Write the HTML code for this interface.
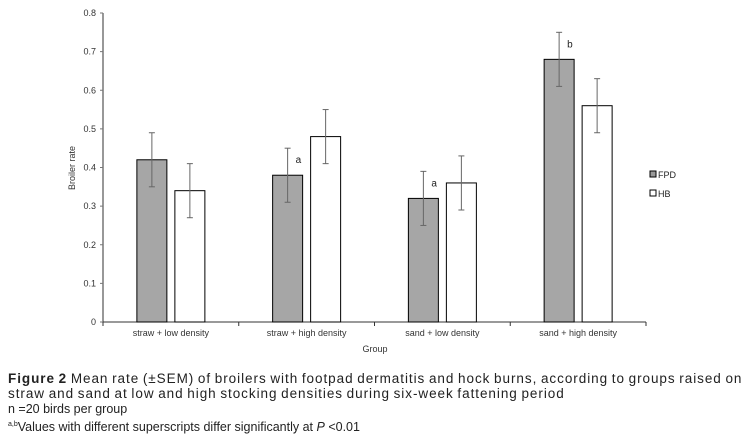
<!DOCTYPE html>
<html><head><meta charset="utf-8"><style>
body{margin:0;background:#fff;width:751px;height:438px;overflow:hidden;font-family:"Liberation Sans",Arial,sans-serif}
svg text{font-family:"Liberation Sans",Arial,sans-serif}
.cap{position:absolute;left:8px;font-size:13.5px;color:#222;line-height:15px;white-space:nowrap}
</style></head><body>
<svg width="751" height="370" style="position:absolute;left:0;top:0">
<g id="axes"></g><g id="bars"></g>
<text x="75" y="168" transform="rotate(-90 75 168)" text-anchor="middle" font-size="9" fill="#333">Broiler rate</text>
<text x="375" y="352" text-anchor="middle" font-size="9" fill="#333">Group</text>
<g>
<rect x="650" y="171" width="6" height="6" fill="#999" stroke="#000" stroke-width="1"/>
<text x="658" y="178" font-size="9" fill="#222">FPD</text>
<rect x="650" y="190" width="6" height="6" fill="#fff" stroke="#000" stroke-width="1"/>
<text x="658" y="197" font-size="9" fill="#222">HB</text>
</g>
</svg>
<div class="cap" style="top:371px;letter-spacing:0.95px;word-spacing:-1px"><b>Figure 2</b> Mean rate (±SEM) of broilers with footpad dermatitis and hock burns, according to groups raised on<br>straw and sand at low and high stocking densities during six-week fattening period</div>
<div class="cap" style="top:402px;font-size:12.5px">n =20 birds per group</div>
<div class="cap" style="top:417px;font-size:12.5px"><sup style="font-size:7px">a,b</sup>Values with different superscripts differ significantly at <i>P</i> &lt;0.01</div>
<script>
const categories=["straw + low density","straw + high density","sand + low density","sand + high density"];
const fpd=[0.42,0.38,0.32,0.68];
const hb=[0.34,0.48,0.36,0.56];
const fpdErr=[0.07,0.07,0.07,0.07];
const hbErr=[0.07,0.07,0.07,0.07];
const fpdLetters=["","a","a","b"];
const yTicks=[0,0.1,0.2,0.3,0.4,0.5,0.6,0.7,0.8];
const NS="http://www.w3.org/2000/svg";
const x0=103,x1=646,yB=322,yT=13,yMax=0.8;
const y=v=>yB-(v/yMax)*(yB-yT);
const gw=(x1-x0)/categories.length;
function mk(t,a,p){const e=document.createElementNS(NS,t);for(const k in a)e.setAttribute(k,a[k]);p.appendChild(e);return e;}
const ax=document.getElementById('axes'),bg=document.getElementById('bars');
const yl=mk('line',{x1:x0,y1:yT,x2:x0,y2:yB,stroke:'#777','stroke-width':1.5},ax);


const xl=mk('line',{x1:x0,y1:yB,x2:x1,y2:yB,stroke:'#333','stroke-width':1},ax);


yTicks.forEach(v=>{
  mk('line',{x1:x0-3,y1:y(v),x2:x0,y2:y(v),stroke:'#777'},ax);
  const t=mk('text',{x:x0-7,y:y(v)+3,'text-anchor':'end','font-size':9,fill:'#333'},ax);
  t.textContent=(v===0?"0":v.toFixed(1));
  
  
});
for(let i=0;i<=categories.length;i++){mk('line',{x1:x0+i*gw,y1:yB,x2:x0+i*gw,y2:yB+4,stroke:'#333'},ax);}
function bar(cx,v,e,fill,name){
  const r=mk('rect',{x:cx-15,y:y(v),width:30,height:yB-y(v),fill:fill,stroke:'#000','stroke-width':1},bg);
  
  
  const g=mk('g',{stroke:'#666','stroke-width':1},bg);
  
  
  mk('line',{x1:cx,y1:y(v+e),x2:cx,y2:y(v-e)},g);
  mk('line',{x1:cx-3,y1:y(v+e),x2:cx+3,y2:y(v+e)},g);
  mk('line',{x1:cx-3,y1:y(v-e),x2:cx+3,y2:y(v-e)},g);
}
categories.forEach((c,i)=>{
  const cx=x0+gw*(i+0.5);
  bar(cx-19,fpd[i],fpdErr[i],'#a6a6a6','bar-fpd-'+(i+1));
  bar(cx+19,hb[i],hbErr[i],'#fff','bar-hb-'+(i+1));
  if(fpdLetters[i]){const t=mk('text',{x:cx-11,y:y(fpd[i])-12,'font-size':10,fill:'#222'},bg);t.textContent=fpdLetters[i];
  
  }
  const l=mk('text',{x:cx,y:yB+14,'text-anchor':'middle','font-size':9,fill:'#333'},ax);l.textContent=c;
  
  
});
</script>
</body></html>
